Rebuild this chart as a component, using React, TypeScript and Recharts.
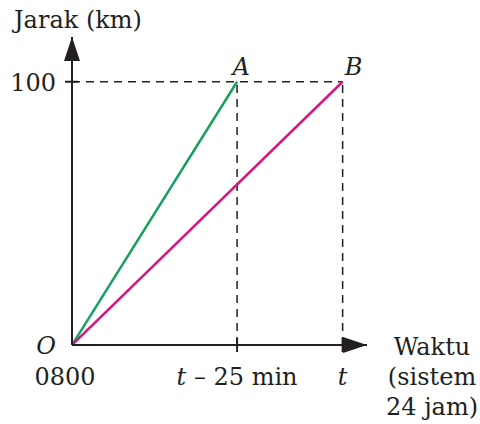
import { ComposedChart, Line, XAxis, YAxis, ReferenceLine, ReferenceDot } from "recharts";

// waktu (relative units), 0800 at 0, t at 100
const timeTicks = [0, 61, 100];
const timeLabels = ["0800", "t – 25 min", "t"];
const distTicks = [100];
const xTitleLines = ["Waktu", "(sistem", "24 jam)"];

const waktuA = [0, 61];
const jarakA = [0, 100];
const waktuB = [0, 100];
const jarakB = [0, 100];

const tripA = waktuA.map((w, i) => ({ waktu: w, jarak: jarakA[i] }));
const tripB = waktuB.map((w, i) => ({ waktu: w, jarak: jarakB[i] }));

const INK = "#231f20";
const txt = { fontFamily: '"DejaVu Serif"', fontSize: 24, fill: INK };

function XTick(props: any) {
  const { x, y, payload } = props;
  const i = timeTicks.indexOf(payload.value);
  const label = timeLabels[i];
  if (payload.value === 0) {
    return (
      <g>
        <text x={x - 26} y={y + 9} textAnchor="middle" style={{ ...txt, fontStyle: "italic" }}>
          O
        </text>
        <text x={x - 7} y={y + 40} textAnchor="middle" style={txt}>
          {label}
        </text>
      </g>
    );
  }
  const parts = label.split(" ");
  return (
    <g>
      <line x1={x} x2={x} y1={y - 7} y2={y + 7} stroke={INK} strokeWidth={2} />
      <text x={x} y={y + 40} textAnchor="middle" style={txt}>
        <tspan style={{ fontStyle: "italic" }}>{parts[0]}</tspan>
        {parts.length > 1 ? " " + parts.slice(1).join(" ") : ""}
      </text>
    </g>
  );
}

function YTick(props: any) {
  const { x, y, payload } = props;
  return (
    <g>
      <line x1={x - 7} x2={x + 6} y1={y} y2={y} stroke={INK} strokeWidth={2} />
      <text x={x - 16} y={y + 9} textAnchor="end" style={txt}>
        {payload.value}
      </text>
    </g>
  );
}

function XTitle(props: any) {
  const { x, y, width } = props.viewBox;
  const cx = x + width + 65;
  return (
    <g>
      {xTitleLines.map((s, i) => (
        <text key={s} x={cx} y={y + 10 + i * 30} textAnchor="middle" style={txt}>
          {s}
        </text>
      ))}
    </g>
  );
}

function YTitle(props: any) {
  const { y } = props.viewBox;
  return (
    <text x={14} y={y - 9} style={txt}>
      Jarak (km)
    </text>
  );
}

function PointName(name: string, dx: number) {
  return (props: any) => {
    const { x, y } = props.viewBox;
    return (
      <text x={x + dx} y={y - 7} textAnchor="middle" style={{ ...txt, fontStyle: "italic" }}>
        {name}
      </text>
    );
  };
}

const dash = { stroke: INK, strokeWidth: 1.5, strokeDasharray: "8 6" };

export default function App() {
  return (
    <div style={{ position: "absolute", left: 0, top: 0, background: "#fff" }}>
      <svg width={0} height={0} style={{ position: "absolute" }}>
        <defs>
          <marker id="axArrow" markerUnits="userSpaceOnUse" markerWidth={24} markerHeight={16}
            refX={24} refY={8} orient="auto-start-reverse">
            <path d="M0,0 L24,8 L0,16 z" fill={INK} />
          </marker>
        </defs>
      </svg>
      <ComposedChart width={480} height={424} margin={{ top: 37, right: 113, left: 0, bottom: 0 }}>
        <XAxis
          dataKey="waktu"
          type="number"
          domain={[0, 109]}
          ticks={timeTicks}
          allowDataOverflow
          height={79}
          tickSize={0}
          tickMargin={0}
          tickLine={false}
          tick={<XTick />}
          axisLine={{ stroke: INK, strokeWidth: 2, markerEnd: "url(#axArrow)" }}
          label={{ content: XTitle }}
        />
        <YAxis
          dataKey="jarak"
          type="number"
          domain={[0, 117]}
          ticks={distTicks}
          allowDataOverflow
          width={72}
          tickSize={0}
          tickMargin={0}
          tickLine={false}
          tick={<YTick />}
          axisLine={{ stroke: INK, strokeWidth: 2, markerStart: "url(#axArrow)" }}
          label={{ content: YTitle }}
        />
        <ReferenceLine segment={[{ x: 0, y: jarakB[1] }, { x: waktuB[1], y: jarakB[1] }]} {...dash} />
        <ReferenceLine segment={[{ x: waktuA[1], y: 0 }, { x: waktuA[1], y: jarakA[1] }]} {...dash} />
        <ReferenceLine segment={[{ x: waktuB[1], y: 0 }, { x: waktuB[1], y: jarakB[1] }]} {...dash} />
        <Line data={tripA} dataKey="jarak" stroke="#17a05d" strokeWidth={2.5} dot={false} isAnimationActive={false} />
        <Line data={tripB} dataKey="jarak" stroke="#d6177f" strokeWidth={2.5} dot={false} isAnimationActive={false} />
        <ReferenceDot x={waktuA[1]} y={jarakA[1]} r={0} stroke="none" fill="none" label={{ content: PointName("A", 4) }} />
        <ReferenceDot x={waktuB[1]} y={jarakB[1]} r={0} stroke="none" fill="none" label={{ content: PointName("B", 11) }} />
      </ComposedChart>
    </div>
  );
}
